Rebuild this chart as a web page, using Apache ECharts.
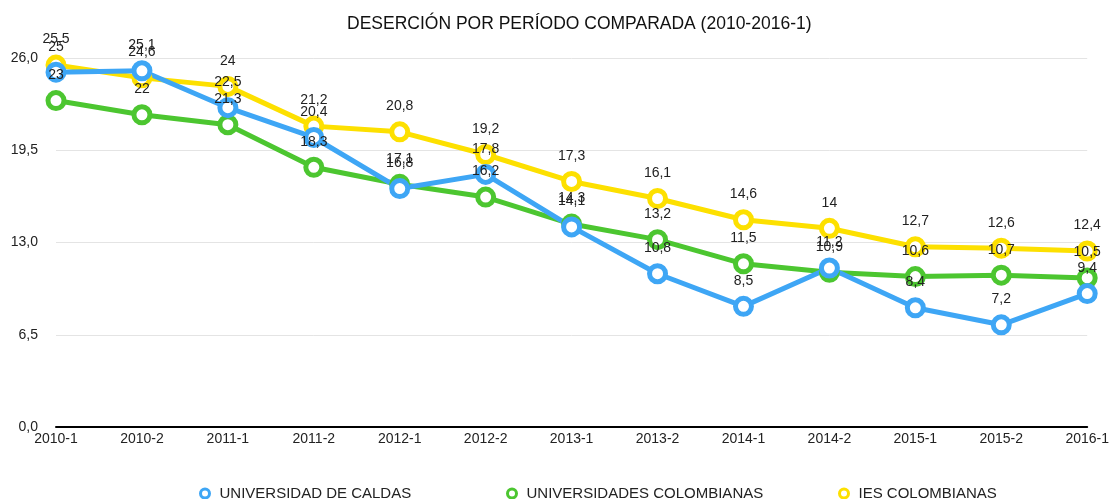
<!DOCTYPE html>
<html>
<head>
<meta charset="utf-8">
<script src="https://cdn.jsdelivr.net/npm/echarts@6/dist/echarts.min.js"></script>
<style>
  html, body { margin: 0; padding: 0; background: #fff; }
  #chart { width: 1112px; height: 499px; }
</style>
</head>
<body>
<div id="chart"></div>
<script>
const periods = ['2010-1', '2010-2', '2011-1', '2011-2', '2012-1', '2012-2', '2013-1',
  '2013-2', '2014-1', '2014-2', '2015-1', '2015-2', '2016-1'];
const caldas = [25, 25.1, 22.5, 20.4, 16.8, 17.8, 14.1, 10.8, 8.5, 11.2, 8.4, 7.2, 9.4];
const universidades = [23, 22, 21.3, 18.3, 17.1, 16.2, 14.3, 13.2, 11.5, 10.9, 10.6, 10.7, 10.5];
const ies = [25.5, 24.6, 24, 21.2, 20.8, 19.2, 17.3, 16.1, 14.6, 14, 12.7, 12.6, 12.4];

const FONT = 'Liberation Sans, Arial, sans-serif';
const comma = v => String(v).replace('.', ',');

// misma apariencia para las tres series
const makeSeries = (name, data, color) => ({
  name: name,
  type: 'line',
  data: data,
  symbol: 'circle',
  symbolSize: 16,
  lineStyle: { width: 5, color: color },
  itemStyle: { color: '#fff', borderColor: color, borderWidth: 5 },
  label: {
    show: true,
    position: 'top',
    distance: 8,
    color: '#222',
    fontSize: 14,
    fontFamily: FONT,
    formatter: p => comma(p.value)
  }
});

// una leyenda por serie, en columnas fijas como en el original
const makeLegend = (name, color, left) => ({
  top: 481,
  left: left,
  icon: 'circle',
  itemWidth: 9,
  itemHeight: 9,
  textStyle: { fontSize: 15, color: '#222', fontFamily: FONT, padding: [0, 0, 0, 5] },
  data: [{ name: name, itemStyle: { color: '#fff', borderColor: color, borderWidth: 3 } }]
});

const chart = echarts.init(document.getElementById('chart'));
chart.setOption({
  animation: false,
  title: {
    text: 'DESERCIÓN POR PERÍODO COMPARADA (2010-2016-1)',
    left: 342,
    top: 10,
    textStyle: { fontSize: 17.5, fontWeight: 'normal', color: '#111', fontFamily: FONT }
  },
  legend: [
    makeLegend('UNIVERSIDAD DE CALDAS', '#3ea6f5', 194),
    makeLegend('UNIVERSIDADES COLOMBIANAS', '#4cc630', 501),
    makeLegend('IES COLOMBIANAS', '#fde000', 833)
  ],
  grid: { left: 56, right: 22, top: 58, bottom: 72 },
  xAxis: {
    type: 'category',
    boundaryGap: false,
    data: periods,
    axisLine: { lineStyle: { color: '#000', width: 2 } },
    axisTick: { show: false },
    axisLabel: { color: '#222', fontSize: 14, margin: 5, fontFamily: FONT }
  },
  yAxis: {
    type: 'value',
    min: 0,
    max: 26,
    interval: 6.5,
    axisLine: { show: false },
    axisTick: { show: false },
    splitLine: { lineStyle: { color: '#e4e4e4' } },
    axisLabel: {
      color: '#222', fontSize: 14, margin: 18, fontFamily: FONT,
      formatter: v => v.toFixed(1).replace('.', ',')
    }
  },
  series: [
    makeSeries('UNIVERSIDADES COLOMBIANAS', universidades, '#4cc630'),
    makeSeries('IES COLOMBIANAS', ies, '#fde000'),
    makeSeries('UNIVERSIDAD DE CALDAS', caldas, '#3ea6f5')
  ]
});
</script>
</body>
</html>
